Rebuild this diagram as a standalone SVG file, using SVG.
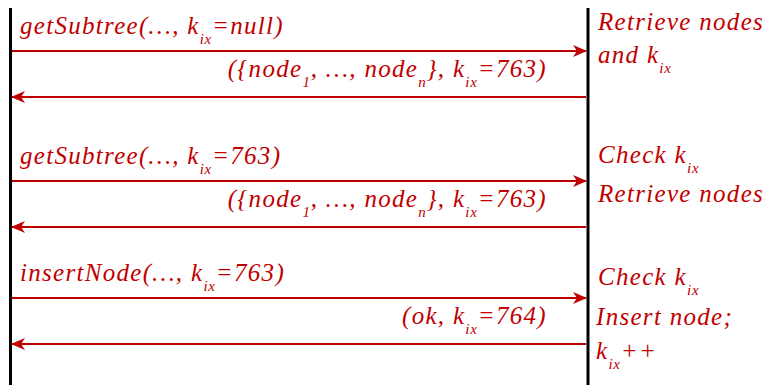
<svg xmlns="http://www.w3.org/2000/svg" width="766" height="385" viewBox="0 0 766 385">
<style>
.life{stroke:#000;stroke-width:3;fill:none}
.msg{stroke:#c00000;stroke-width:2;fill:none}
.t{font-family:"Liberation Serif","Times New Roman",serif;font-style:italic;font-size:25px;fill:#c00000;letter-spacing:1.3px}
.s{font-size:15px;letter-spacing:0.8px}
.e{text-anchor:end}
</style>
<defs>
<marker id="ah" viewBox="0 0 14 12" refX="13" refY="6" markerWidth="14" markerHeight="12" markerUnits="userSpaceOnUse" orient="auto">
<path d="M0,0 L14,6 L0,12 L4,6 Z" fill="#c00000"/>
</marker>
</defs>
<rect width="766" height="385" fill="#fff"/>
<g id="client">
<line class="life" x1="10.5" y1="8" x2="10.5" y2="385"/>
</g>
<g id="server">
<line class="life" x1="588" y1="8" x2="588" y2="385"/>
</g>
<g id="connectors">
<line class="msg" x1="12" y1="51" x2="586" y2="51" marker-end="url(#ah)"/>
<line class="msg" x1="586" y1="97" x2="12" y2="97" marker-end="url(#ah)"/>
<line class="msg" x1="12" y1="181" x2="586" y2="181" marker-end="url(#ah)"/>
<line class="msg" x1="586" y1="227" x2="12" y2="227" marker-end="url(#ah)"/>
<line class="msg" x1="12" y1="298" x2="586" y2="298" marker-end="url(#ah)"/>
<line class="msg" x1="586" y1="344" x2="12" y2="344" marker-end="url(#ah)"/>
</g>
<g id="labels">
<text class="t" x="20" y="34">getSubtree(…, k<tspan class="s" dy="10">ix</tspan><tspan dy="-10">=null)</tspan></text>
<text class="t e" x="547" y="77">({node<tspan class="s" dy="10">1</tspan><tspan dy="-10">, …, node</tspan><tspan class="s" dy="10">n</tspan><tspan dy="-10">}, k</tspan><tspan class="s" dy="10">ix</tspan><tspan dy="-10">=763)</tspan></text>
<text class="t" x="20" y="164">getSubtree(…, k<tspan class="s" dy="10">ix</tspan><tspan dy="-10">=763)</tspan></text>
<text class="t e" x="547" y="207">({node<tspan class="s" dy="10">1</tspan><tspan dy="-10">, …, node</tspan><tspan class="s" dy="10">n</tspan><tspan dy="-10">}, k</tspan><tspan class="s" dy="10">ix</tspan><tspan dy="-10">=763)</tspan></text>
<text class="t" x="20" y="281">insertNode(…, k<tspan class="s" dy="10">ix</tspan><tspan dy="-10">=763)</tspan></text>
<text class="t e" x="547" y="324">(ok, k<tspan class="s" dy="10">ix</tspan><tspan dy="-10">=764)</tspan></text>
<text class="t" x="598" y="30">Retrieve nodes</text>
<text class="t" x="598" y="63">and k<tspan class="s" dy="10">ix</tspan></text>
<text class="t" x="598" y="163">Check k<tspan class="s" dy="10">ix</tspan></text>
<text class="t" x="598" y="202">Retrieve nodes</text>
<text class="t" x="598" y="285">Check k<tspan class="s" dy="10">ix</tspan></text>
<text class="t" x="596" y="325">Insert node;</text>
<text class="t" x="596" y="359">k<tspan class="s" dy="10">ix</tspan><tspan dy="-10">++</tspan></text>
</g>
</svg>
